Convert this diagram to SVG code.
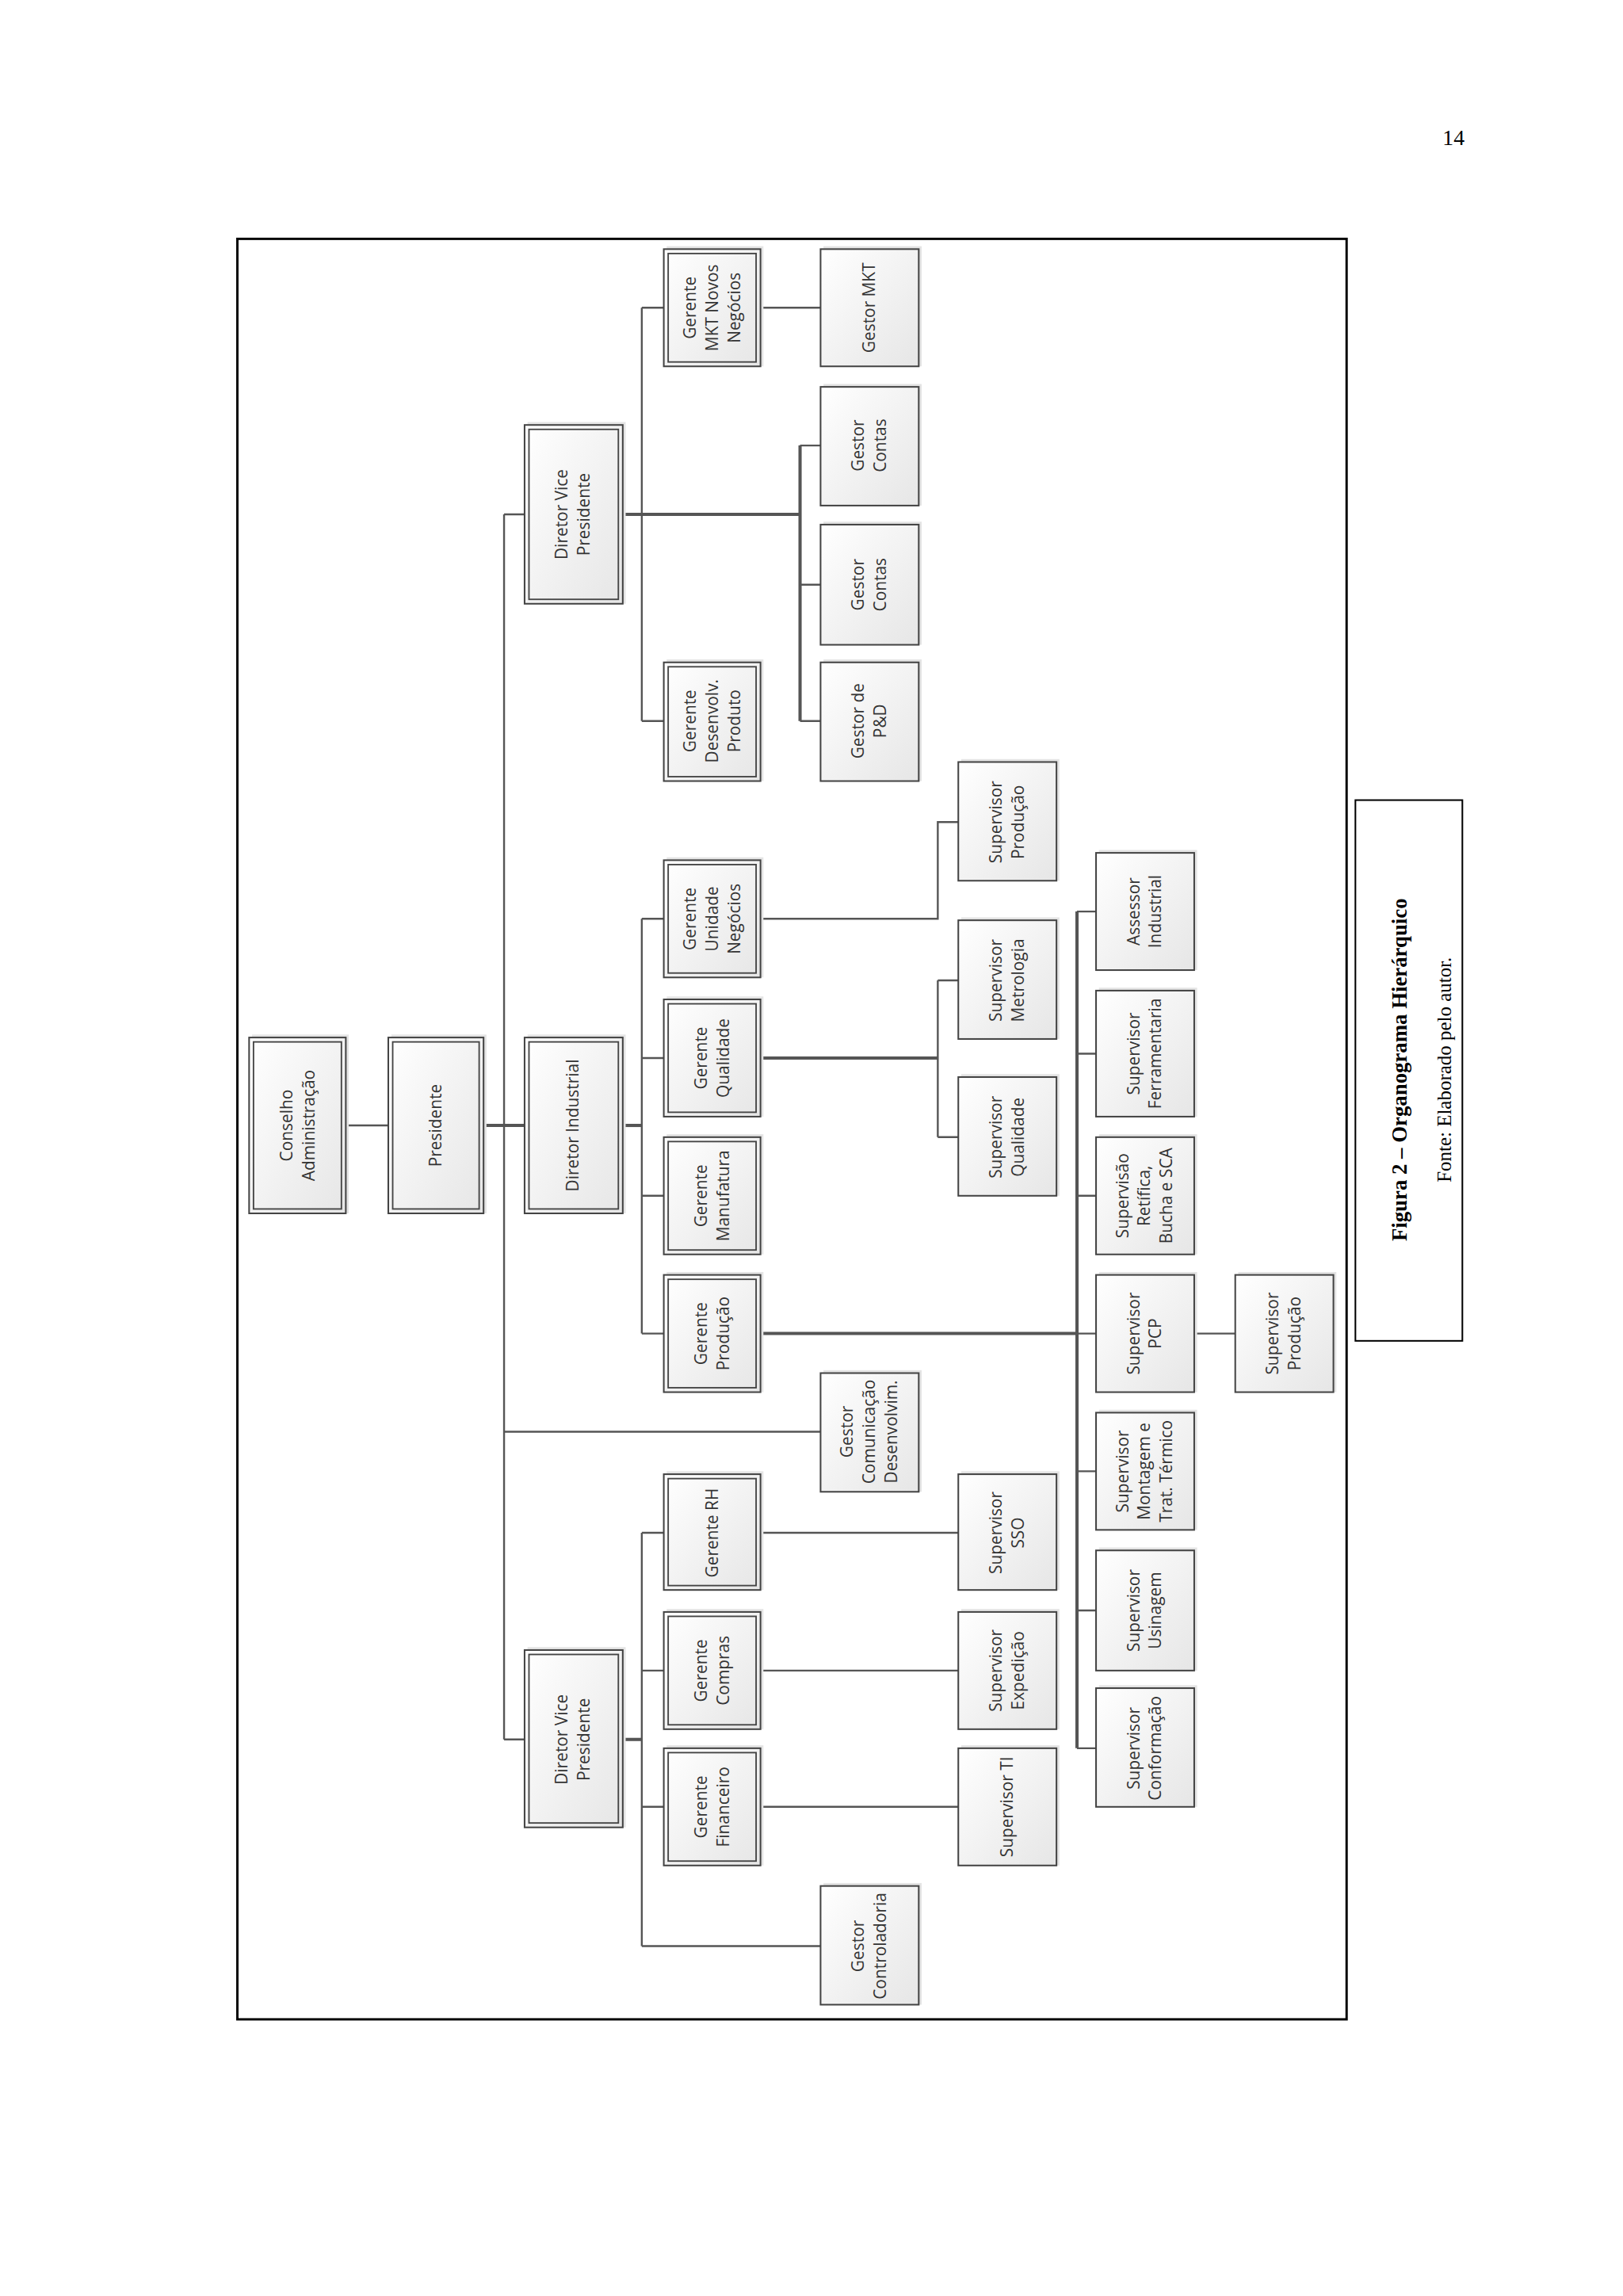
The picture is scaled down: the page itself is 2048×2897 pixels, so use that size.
<svg xmlns="http://www.w3.org/2000/svg" width="2048" height="2897" viewBox="0 0 2048 2897">
<defs>
<linearGradient id="g" x1="0" y1="0" x2="1" y2="1"><stop offset="0" stop-color="#ffffff"/><stop offset="1" stop-color="#e6e6e6"/></linearGradient>
<style>
.b{fill:url(#g);stroke:#444;stroke-width:1.1}
.i{fill:none;stroke:#444;stroke-width:1}
.s{fill:#e4e4e4;stroke:none}
.t{font-family:"Open Sans","Liberation Sans",sans-serif;font-size:11.3px;fill:#333;text-anchor:middle}
.c{fill:none;stroke:#555;stroke-width:1.3}
.k{fill:none;stroke:#555;stroke-width:2.2}
</style>
</defs>
<rect width="2048" height="2897" fill="#fff"/>
<g transform="scale(1.849)">
<text x="992" y="99" font-family="Liberation Serif,serif" font-size="15" text-anchor="middle">14</text>
<rect x="162" y="163" width="757" height="1215" fill="none" stroke="#000" stroke-width="1.6"/>
<g id="caption">
<rect x="925" y="546" width="73" height="369" fill="none" stroke="#000" stroke-width="1.1"/>
<text transform="translate(960,730) rotate(-90)" font-family="Liberation Serif,serif" font-size="14.5" font-weight="bold" text-anchor="middle">Figura 2 – Organograma Hierárquico</text>
<text transform="translate(990,730) rotate(-90)" font-family="Liberation Serif,serif" font-size="13.5" text-anchor="middle">Fonte: Elaborado pelo autor.</text>
</g>
<g id="connectors">
<path class="c" d="M236 768H265"/>
<path class="k" d="M330 768H358"/>
<path class="c" d="M344 351V1187M344 351H358M344 977H560M344 1187H358"/>
<path class="k" d="M425 351H546"/>
<path class="c" d="M438 210V492M438 210H453M438 492H453M519 210H560"/>
<path class="k" d="M546 304V492"/>
<path class="c" d="M546 304H560M546 399H560M546 492H560"/>
<path class="k" d="M425 768H438"/>
<path class="c" d="M438 627V910M438 627H453M438 722H453M438 816H453M438 910H453"/>
<path class="c" d="M519 627H640V561H654"/>
<path class="k" d="M519 722H640"/>
<path class="c" d="M640 669V776M640 669H654M640 776H654"/>
<path class="k" d="M519 910H735M735 622V1193"/>
<path class="c" d="M735 622H748M735 719H748M735 816H748M735 910H748M735 1004H748M735 1099H748M735 1193H748M815 910H843"/>
<path class="k" d="M425 1187H438"/>
<path class="c" d="M438 1046V1328M438 1046H453M438 1140H453M438 1233H453M438 1328H560"/>
<path class="c" d="M519 1046H654M519 1140H654M519 1233H654"/>
</g>
<g id="n1"><rect class="s" x="172" y="706" width="66" height="122"/><rect class="b" x="170" y="708" width="66" height="120"/><rect class="i" x="173" y="711" width="60" height="114"/><text class="t" transform="translate(203,768) rotate(-90)"><tspan x="0" y="-3.5">Conselho</tspan><tspan x="0" y="11.5">Administração</tspan></text></g>
<g id="n2"><rect class="s" x="267" y="706" width="65" height="122"/><rect class="b" x="265" y="708" width="65" height="120"/><rect class="i" x="268" y="711" width="59" height="114"/><text class="t" transform="translate(297,768) rotate(-90)"><tspan x="0" y="4">Presidente</tspan></text></g>
<g id="n3"><rect class="s" x="360" y="706" width="67" height="122"/><rect class="b" x="358" y="708" width="67" height="120"/><rect class="i" x="361" y="711" width="61" height="114"/><text class="t" transform="translate(391,768) rotate(-90)"><tspan x="0" y="4">Diretor Industrial</tspan></text></g>
<g id="n4"><rect class="s" x="360" y="288" width="67" height="124"/><rect class="b" x="358" y="290" width="67" height="122"/><rect class="i" x="361" y="293" width="61" height="116"/><text class="t" transform="translate(391,351) rotate(-90)"><tspan x="0" y="-3.5">Diretor Vice</tspan><tspan x="0" y="11.5">Presidente</tspan></text></g>
<g id="n5"><rect class="s" x="360" y="1124" width="67" height="123"/><rect class="b" x="358" y="1126" width="67" height="121"/><rect class="i" x="361" y="1129" width="61" height="115"/><text class="t" transform="translate(391,1187) rotate(-90)"><tspan x="0" y="-3.5">Diretor Vice</tspan><tspan x="0" y="11.5">Presidente</tspan></text></g>
<g id="n6"><rect class="s" x="455" y="168" width="66" height="82"/><rect class="b" x="453" y="170" width="66" height="80"/><rect class="i" x="456" y="173" width="60" height="74"/><text class="t" transform="translate(486,210) rotate(-90)"><tspan x="0" y="-11">Gerente</tspan><tspan x="0" y="4">MKT Novos</tspan><tspan x="0" y="19">Negócios</tspan></text></g>
<g id="n7"><rect class="s" x="562" y="168" width="67" height="82"/><rect class="b" x="560" y="170" width="67" height="80"/><text class="t" transform="translate(593,210) rotate(-90)"><tspan x="0" y="4">Gestor MKT</tspan></text></g>
<g id="n8"><rect class="s" x="562" y="262" width="67" height="83"/><rect class="b" x="560" y="264" width="67" height="81"/><text class="t" transform="translate(593,304) rotate(-90)"><tspan x="0" y="-3.5">Gestor</tspan><tspan x="0" y="11.5">Contas</tspan></text></g>
<g id="n9"><rect class="s" x="562" y="356" width="67" height="84"/><rect class="b" x="560" y="358" width="67" height="82"/><text class="t" transform="translate(593,399) rotate(-90)"><tspan x="0" y="-3.5">Gestor</tspan><tspan x="0" y="11.5">Contas</tspan></text></g>
<g id="n10"><rect class="s" x="562" y="450" width="67" height="83"/><rect class="b" x="560" y="452" width="67" height="81"/><text class="t" transform="translate(593,492) rotate(-90)"><tspan x="0" y="-3.5">Gestor de</tspan><tspan x="0" y="11.5">P&amp;D</tspan></text></g>
<g id="n11"><rect class="s" x="455" y="450" width="66" height="83"/><rect class="b" x="453" y="452" width="66" height="81"/><rect class="i" x="456" y="455" width="60" height="75"/><text class="t" transform="translate(486,492) rotate(-90)"><tspan x="0" y="-11">Gerente</tspan><tspan x="0" y="4">Desenvolv.</tspan><tspan x="0" y="19">Produto</tspan></text></g>
<g id="n12"><rect class="s" x="455" y="585" width="66" height="82"/><rect class="b" x="453" y="587" width="66" height="80"/><rect class="i" x="456" y="590" width="60" height="74"/><text class="t" transform="translate(486,627) rotate(-90)"><tspan x="0" y="-11">Gerente</tspan><tspan x="0" y="4">Unidade</tspan><tspan x="0" y="19">Negócios</tspan></text></g>
<g id="n13"><rect class="s" x="455" y="680" width="66" height="82"/><rect class="b" x="453" y="682" width="66" height="80"/><rect class="i" x="456" y="685" width="60" height="74"/><text class="t" transform="translate(486,722) rotate(-90)"><tspan x="0" y="-3.5">Gerente</tspan><tspan x="0" y="11.5">Qualidade</tspan></text></g>
<g id="n14"><rect class="s" x="455" y="774" width="66" height="82"/><rect class="b" x="453" y="776" width="66" height="80"/><rect class="i" x="456" y="779" width="60" height="74"/><text class="t" transform="translate(486,816) rotate(-90)"><tspan x="0" y="-3.5">Gerente</tspan><tspan x="0" y="11.5">Manufatura</tspan></text></g>
<g id="n15"><rect class="s" x="455" y="868" width="66" height="82"/><rect class="b" x="453" y="870" width="66" height="80"/><rect class="i" x="456" y="873" width="60" height="74"/><text class="t" transform="translate(486,910) rotate(-90)"><tspan x="0" y="-3.5">Gerente</tspan><tspan x="0" y="11.5">Produção</tspan></text></g>
<g id="n16"><rect class="s" x="562" y="935" width="67" height="83"/><rect class="b" x="560" y="937" width="67" height="81"/><text class="t" transform="translate(593,977) rotate(-90)"><tspan x="0" y="-11">Gestor</tspan><tspan x="0" y="4">Comunicação</tspan><tspan x="0" y="19">Desenvolvim.</tspan></text></g>
<g id="n17"><rect class="s" x="455" y="1004" width="66" height="81"/><rect class="b" x="453" y="1006" width="66" height="79"/><rect class="i" x="456" y="1009" width="60" height="73"/><text class="t" transform="translate(486,1046) rotate(-90)"><tspan x="0" y="4">Gerente RH</tspan></text></g>
<g id="n18"><rect class="s" x="455" y="1098" width="66" height="82"/><rect class="b" x="453" y="1100" width="66" height="80"/><rect class="i" x="456" y="1103" width="60" height="74"/><text class="t" transform="translate(486,1140) rotate(-90)"><tspan x="0" y="-3.5">Gerente</tspan><tspan x="0" y="11.5">Compras</tspan></text></g>
<g id="n19"><rect class="s" x="455" y="1191" width="66" height="82"/><rect class="b" x="453" y="1193" width="66" height="80"/><rect class="i" x="456" y="1196" width="60" height="74"/><text class="t" transform="translate(486,1233) rotate(-90)"><tspan x="0" y="-3.5">Gerente</tspan><tspan x="0" y="11.5">Financeiro</tspan></text></g>
<g id="n20"><rect class="s" x="562" y="1285" width="67" height="83"/><rect class="b" x="560" y="1287" width="67" height="81"/><text class="t" transform="translate(593,1328) rotate(-90)"><tspan x="0" y="-3.5">Gestor</tspan><tspan x="0" y="11.5">Controladoria</tspan></text></g>
<g id="n21"><rect class="s" x="656" y="518" width="67" height="83"/><rect class="b" x="654" y="520" width="67" height="81"/><text class="t" transform="translate(687,561) rotate(-90)"><tspan x="0" y="-3.5">Supervisor</tspan><tspan x="0" y="11.5">Produção</tspan></text></g>
<g id="n22"><rect class="s" x="656" y="626" width="67" height="83"/><rect class="b" x="654" y="628" width="67" height="81"/><text class="t" transform="translate(687,669) rotate(-90)"><tspan x="0" y="-3.5">Supervisor</tspan><tspan x="0" y="11.5">Metrologia</tspan></text></g>
<g id="n23"><rect class="s" x="656" y="733" width="67" height="83"/><rect class="b" x="654" y="735" width="67" height="81"/><text class="t" transform="translate(687,776) rotate(-90)"><tspan x="0" y="-3.5">Supervisor</tspan><tspan x="0" y="11.5">Qualidade</tspan></text></g>
<g id="n24"><rect class="s" x="656" y="1004" width="67" height="81"/><rect class="b" x="654" y="1006" width="67" height="79"/><text class="t" transform="translate(687,1046) rotate(-90)"><tspan x="0" y="-3.5">Supervisor</tspan><tspan x="0" y="11.5">SSO</tspan></text></g>
<g id="n25"><rect class="s" x="656" y="1098" width="67" height="82"/><rect class="b" x="654" y="1100" width="67" height="80"/><text class="t" transform="translate(687,1140) rotate(-90)"><tspan x="0" y="-3.5">Supervisor</tspan><tspan x="0" y="11.5">Expedição</tspan></text></g>
<g id="n26"><rect class="s" x="656" y="1191" width="67" height="82"/><rect class="b" x="654" y="1193" width="67" height="80"/><text class="t" transform="translate(687,1233) rotate(-90)"><tspan x="0" y="4">Supervisor TI</tspan></text></g>
<g id="n27"><rect class="s" x="750" y="580" width="67" height="82"/><rect class="b" x="748" y="582" width="67" height="80"/><text class="t" transform="translate(781,622) rotate(-90)"><tspan x="0" y="-3.5">Assessor</tspan><tspan x="0" y="11.5">Industrial</tspan></text></g>
<g id="n28"><rect class="s" x="750" y="674" width="67" height="88"/><rect class="b" x="748" y="676" width="67" height="86"/><text class="t" transform="translate(781,719) rotate(-90)"><tspan x="0" y="-3.5">Supervisor</tspan><tspan x="0" y="11.5">Ferramentaria</tspan></text></g>
<g id="n29"><rect class="s" x="750" y="774" width="67" height="82"/><rect class="b" x="748" y="776" width="67" height="80"/><text class="t" transform="translate(781,816) rotate(-90)"><tspan x="0" y="-11">Supervisão</tspan><tspan x="0" y="4">Retífica,</tspan><tspan x="0" y="19">Bucha e SCA</tspan></text></g>
<g id="n30"><rect class="s" x="750" y="868" width="67" height="82"/><rect class="b" x="748" y="870" width="67" height="80"/><text class="t" transform="translate(781,910) rotate(-90)"><tspan x="0" y="-3.5">Supervisor</tspan><tspan x="0" y="11.5">PCP</tspan></text></g>
<g id="n31"><rect class="s" x="750" y="962" width="67" height="82"/><rect class="b" x="748" y="964" width="67" height="80"/><text class="t" transform="translate(781,1004) rotate(-90)"><tspan x="0" y="-11">Supervisor</tspan><tspan x="0" y="4">Montagem e</tspan><tspan x="0" y="19">Trat. Térmico</tspan></text></g>
<g id="n32"><rect class="s" x="750" y="1056" width="67" height="84"/><rect class="b" x="748" y="1058" width="67" height="82"/><text class="t" transform="translate(781,1099) rotate(-90)"><tspan x="0" y="-3.5">Supervisor</tspan><tspan x="0" y="11.5">Usinagem</tspan></text></g>
<g id="n33"><rect class="s" x="750" y="1150" width="67" height="83"/><rect class="b" x="748" y="1152" width="67" height="81"/><text class="t" transform="translate(781,1193) rotate(-90)"><tspan x="0" y="-3.5">Supervisor</tspan><tspan x="0" y="11.5">Conformação</tspan></text></g>
<g id="n34"><rect class="s" x="845" y="868" width="67" height="82"/><rect class="b" x="843" y="870" width="67" height="80"/><text class="t" transform="translate(876,910) rotate(-90)"><tspan x="0" y="-3.5">Supervisor</tspan><tspan x="0" y="11.5">Produção</tspan></text></g>
</g>
</svg>
